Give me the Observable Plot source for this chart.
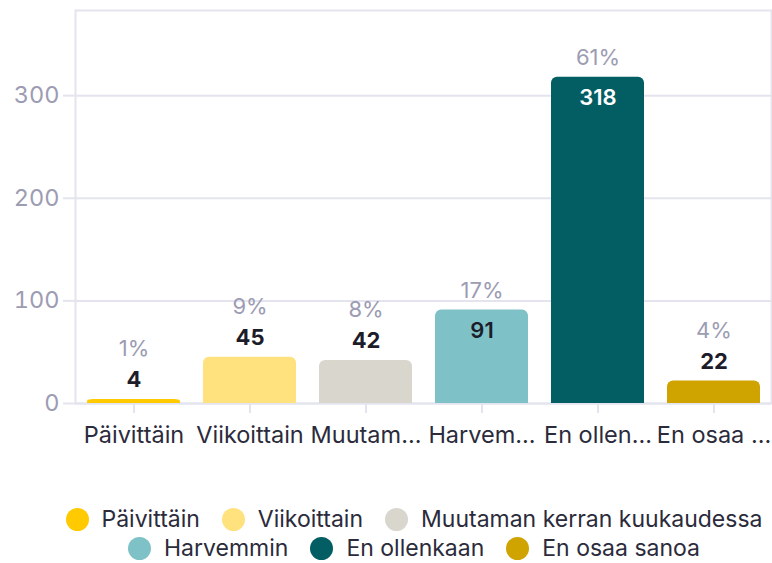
<!DOCTYPE html>
<html>
<head>
<meta charset="utf-8">
<script src="https://cdn.jsdelivr.net/npm/d3@7"></script>
<script src="https://cdn.jsdelivr.net/npm/@observablehq/plot@0.6"></script>
<style>
  html, body { margin: 0; padding: 0; background: #fff; }
  body { width: 772px; height: 563px; overflow: hidden; font-family: Inter, "Noto Sans", sans-serif; }
  #legend {
    display: flex; flex-wrap: wrap; justify-content: center;
    width: 720px; margin-left: 54px; margin-top: 44px; row-gap: 7px; column-gap: 22px;
    font-size: 23px; color: #2b2b3b; line-height: 22px;
  }
  .item { display: flex; align-items: center; gap: 13px; white-space: nowrap; height: 22px; }
  .dot { width: 23px; height: 23px; border-radius: 50%; display: inline-block; flex: none; }
</style>
</head>
<body>
<div id="chart"></div>
<div id="legend"></div>
<script>
const categories = ["Päivittäin", "Viikoittain", "Muutaman kerran kuukaudessa", "Harvemmin", "En ollenkaan", "En osaa sanoa"];
const tickLabels = ["Päivittäin", "Viikoittain", "Muutam...", "Harvem...", "En ollen...", "En osaa ..."];
const counts = [4, 45, 42, 91, 318, 22];
const percents = ["1%", "9%", "8%", "17%", "61%", "4%"];
const colors = ["#FFCA00", "#FFE17D", "#D9D6CE", "#7EC2C8", "#035E64", "#CFA300"];
const yTicks = [0, 100, 200, 300];

const data = categories.map((c, i) => ({
  cat: c, count: counts[i], pct: percents[i], color: colors[i],
  inside: counts[i] > 60,
  dark: d3.hsl(colors[i]).l < 0.4
}));
const inside = data.filter(d => d.inside);
const outside = data.filter(d => !d.inside);

const gridColor = "#E4E4EE";
const labelGray = "#9C9CB3";
const fs = 22;
const afs = 23.5;
const chart = Plot.plot({
  width: 772, height: 464,
  marginLeft: 75, marginRight: 1, marginTop: 10, marginBottom: 61,
  style: { fontFamily: "Inter, 'Noto Sans', sans-serif", fontSize: afs + "px", background: "#fff", overflow: "visible" },
  x: { domain: categories, paddingInner: 0.2, paddingOuter: 0.1, label: null },
  y: { domain: [0, 383], label: null },
  marks: [
    Plot.frame({ stroke: gridColor, strokeWidth: 2 }),
    Plot.ruleY(yTicks, { stroke: gridColor, strokeWidth: 2 }),
    Plot.axisY({ ticks: yTicks, tickSize: 12, tickPadding: 4, stroke: gridColor, fill: labelGray, label: null, strokeWidth: 2 }),
    Plot.axisX({ tickSize: 10, tickPadding: 13, stroke: gridColor, fill: "#2B2B3B", label: null, strokeWidth: 2,
                 tickFormat: d => tickLabels[categories.indexOf(d)] }),
    Plot.barY(data, { x: "cat", y: "count", fill: "color", rx: 6 }),
    Plot.barY(data, { x: "cat", y1: 0, y2: d => d.count / 2, fill: "color" }),
    // value labels
    Plot.text(outside, { x: "cat", y: "count", text: d => String(d.count), dy: -19,
      fill: "#1C1C2A", fontWeight: 700, fontSize: fs }),
    Plot.text(inside, { x: "cat", y: "count", text: d => String(d.count), dy: 21,
      fill: d => d.dark ? "#FFFFFF" : "#1C1C2A", fontWeight: 600, fontSize: fs }),
    // percent labels
    Plot.text(outside, { x: "cat", y: "count", text: "pct", dy: -50, fill: labelGray, fontSize: fs }),
    Plot.text(inside, { x: "cat", y: "count", text: "pct", dy: -19, fill: labelGray, fontSize: fs })
  ]
});
document.getElementById("chart").appendChild(chart);

const legend = document.getElementById("legend");
categories.forEach((c, i) => {
  const it = document.createElement("div");
  it.className = "item";
  const dot = document.createElement("span");
  dot.className = "dot";
  dot.style.background = colors[i];
  const lab = document.createElement("span");
  lab.textContent = c;
  it.appendChild(dot); it.appendChild(lab);
  legend.appendChild(it);
});
</script>
</body>
</html>
